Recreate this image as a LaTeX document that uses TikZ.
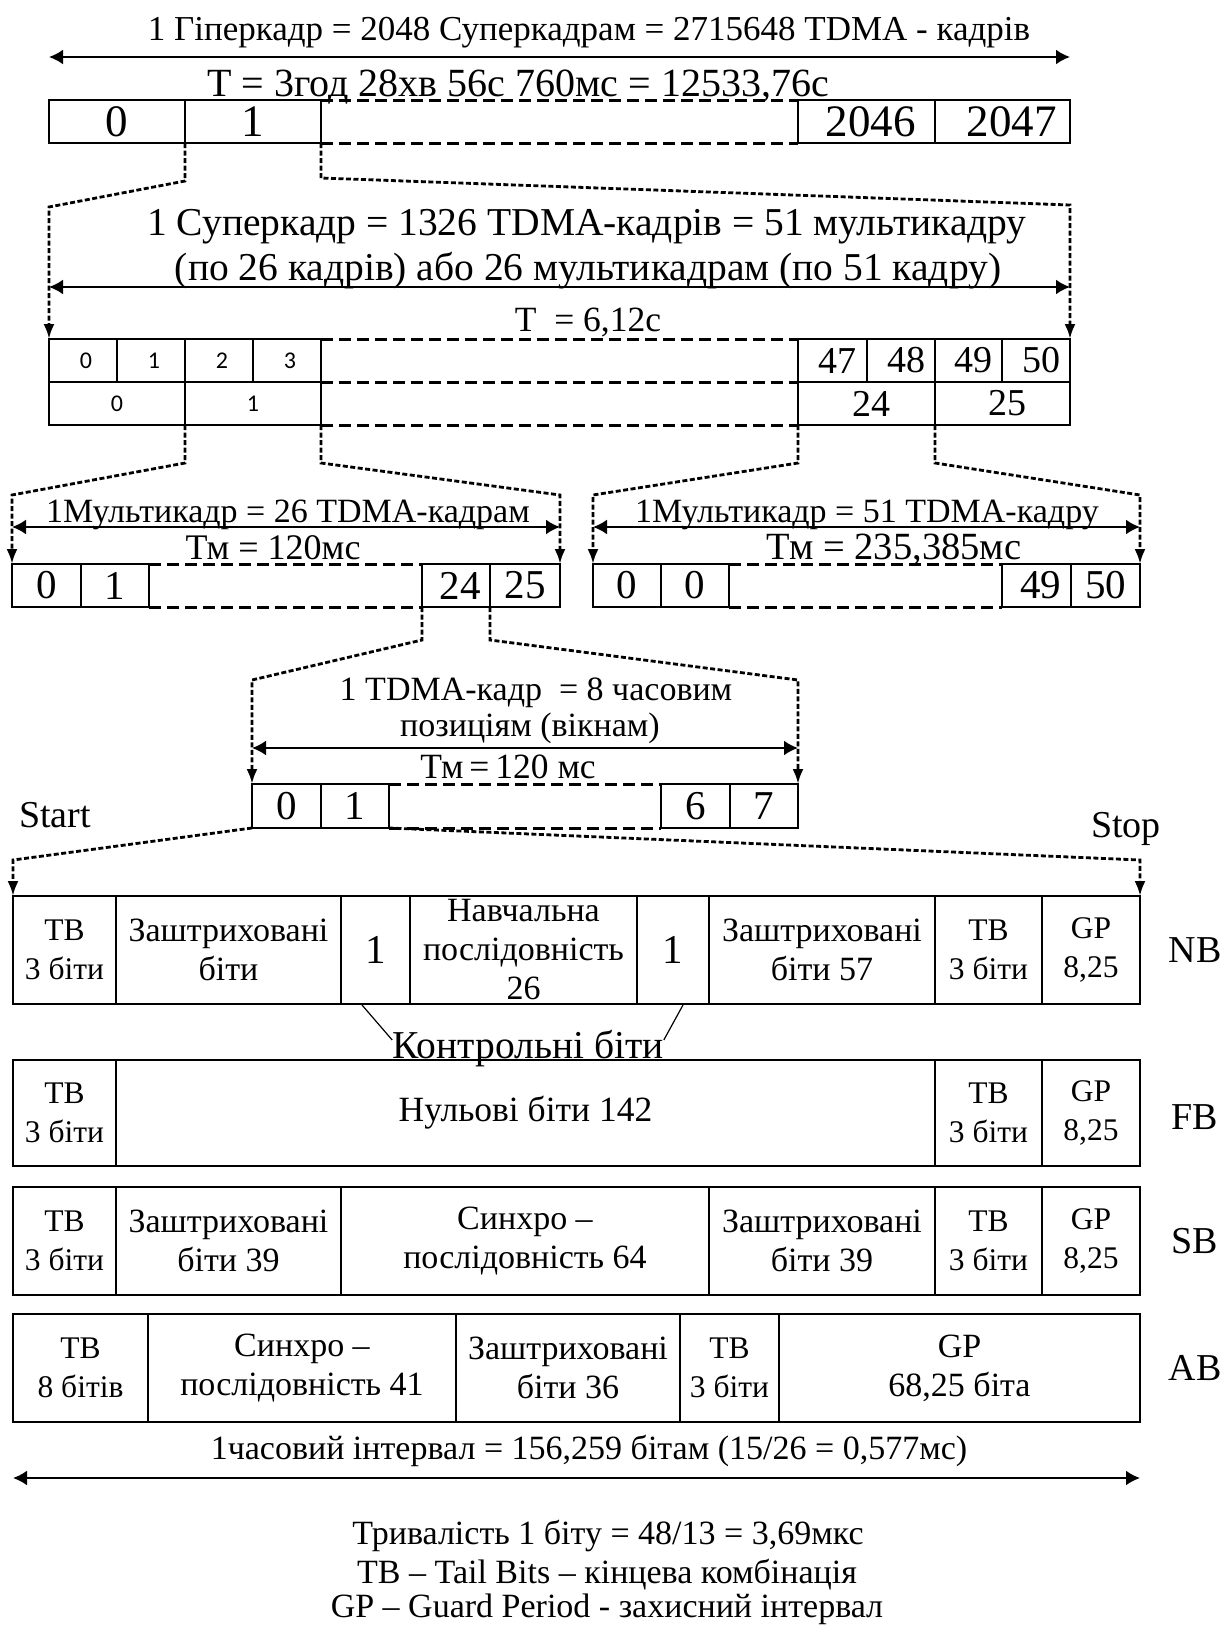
\documentclass[tikz,border=0pt]{standalone}
\usepackage{fontspec}
\setmainfont{Liberation Serif}
\newfontfamily\calib{Carlito}
\usetikzlibrary{arrows.meta}
\newcommand{\mkcell}[7][]{%
  \node[cellbox,#1,minimum width={(#4)-(#3)},minimum height={(#6)-(#5)}] (#2) at ({((#3)+(#4))/2},{((#5)+(#6))/2}) {#7};}
\tikzset{
  cellbox/.style={draw, line width=2pt, inner sep=0pt, outer sep=0pt, align=center, font=\fontsize{34}{39}\selectfont},
  tbc/.style={font=\fontsize{31.5}{39}\selectfont},
  hnum/.style={font=\fontsize{45}{50}\selectfont},
  num/.style={font=\fontsize{41}{48}\selectfont},
  mnum/.style={font=\fontsize{38}{46}\selectfont},
  snum/.style={font=\calib\fontsize{24}{28}\selectfont},
  ttl/.style={inner sep=0pt, anchor=base, font=\fontsize{34}{44}\selectfont},
  sz/.style={font=\fontsize{#1}{44}\selectfont},
  side/.style={inner sep=0pt, font=\fontsize{38}{44}\selectfont},
  dbl/.style={line width=2.2pt, {Latex[length=14pt,width=15pt]}-{Latex[length=14pt,width=15pt]}},
  conn/.style={line width=2.8pt, dash pattern=on 5pt off 2.5pt, -{Latex[length=15pt,width=11pt]}},
  gap/.style={line width=3pt, dash pattern=on 12pt off 6pt},
  thinline/.style={line width=1.2pt}
}
\begin{document}
\begin{tikzpicture}[x=1pt,y=-1pt]
\fill[white] (0,0) rectangle (1223,1625);
\useasboundingbox (0,0) rectangle (1223,1625);

% ---------- Hyperframe ----------
\node[ttl, sz=35] (hyptitle) at (589,40) {1 Гіперкадр = 2048 Суперкадрам = 2715648 TDMA - кадрів};
\coordinate (a1l) at (49,57); \coordinate (a1r) at (1070,57);
\draw[dbl] (a1l) -- (a1r);
\node[ttl, sz=40] (hypT) at (518,96) {T = 3год 28хв 56с 760мс = 12533,76с};
\mkcell[hnum]{h0}{49}{185}{100}{143}{0}
\mkcell[hnum]{h1}{185}{321}{100}{143}{1}
\mkcell[hnum]{h2046}{798}{935}{100}{143}{\hspace*{8pt}2046}
\mkcell[hnum]{h2047}{935}{1070}{100}{143}{\hspace*{18pt}2047}
\draw[gap] (h1.north east) -- (h2046.north west);
\draw[gap] (h1.south east) -- (h2046.south west);

% ---------- Superframe ----------
\node[ttl, sz=39.5] (suptitle1) at (587,235) {1 Суперкадр = 1326 TDMA-кадрів = 51 мультикадру};
\node[ttl, sz=39.5] (suptitle2) at (588,280) {(по 26 кадрів) або 26 мультикадрам (по 51 кадру)};
\coordinate (a2l) at (49,287); \coordinate (a2r) at (1070,287);
\draw[dbl] (a2l) -- (a2r);
\node[ttl, sz=35.5] (supT) at (588,331) {T~ = 6,12с};
\mkcell[snum]{su0}{49}{117}{339}{382}{\hspace*{6pt}0}
\mkcell[snum]{su1}{117}{185}{339}{382}{\hspace*{6pt}1}
\mkcell[snum]{su2}{185}{253}{339}{382}{\hspace*{6pt}2}
\mkcell[snum]{su3}{253}{321}{339}{382}{\hspace*{6pt}3}
\mkcell[mnum]{su47}{798}{867}{339}{382}{\hspace*{10pt}47}
\mkcell[mnum]{su48}{867}{935}{339}{382}{\hspace*{10pt}48}
\mkcell[mnum]{su49}{935}{1002}{339}{382}{\hspace*{10pt}49}
\mkcell[mnum]{su50}{1002}{1070}{339}{382}{\hspace*{10pt}50}
\mkcell[snum]{sv0}{49}{185}{382}{425}{0}
\mkcell[snum]{sv1}{185}{321}{382}{425}{1}
\mkcell[mnum]{sv24}{798}{935}{382}{425}{\hspace*{10pt}24}
\mkcell[mnum]{sv25}{935}{1070}{382}{425}{\hspace*{10pt}25}
\draw[gap] (su3.north east) -- (su47.north west);
\draw[gap] (sv1.north east) -- (sv24.north west);
\draw[gap] (sv1.south east) -- (sv24.south west);

% connectors hyper -> super
\coordinate (c1a) at (185,181); \coordinate (c1b) at (49,207);
\coordinate (c2a) at (321,178); \coordinate (c2b) at (1070,205);
\draw[conn] (h1.south west) -- (c1a) -- (c1b) -- (su0.north west);
\draw[conn] (h1.south east) -- (c2a) -- (c2b) -- (su50.north east);

% ---------- Multiframes ----------
\node[ttl] (mlt1) at (288,522) {1Мультикадр = 26 TDMA-кадрам};
\coordinate (a3l) at (12,527); \coordinate (a3r) at (560,527);
\draw[dbl] (a3l) -- (a3r);
\node[ttl, sz=36] (mlT1) at (273,559) {Тм = 120мс};
\mkcell[num]{ma0}{12}{81}{564}{607}{0}
\mkcell[num]{ma1}{81}{149}{564}{607}{1}
\mkcell[num]{ma24}{422}{490}{564}{607}{\hspace*{8pt}24}
\mkcell[num]{ma25}{490}{560}{564}{607}{25}
\draw[gap] (ma1.north east) -- (ma24.north west);
\draw[gap] (ma1.south east) -- (ma24.south west);

\node[ttl] (mlt2) at (867,522) {1Мультикадр = 51 TDMA-кадру};
\coordinate (a4l) at (593,527); \coordinate (a4r) at (1140,527);
\draw[dbl] (a4l) -- (a4r);
\node[ttl, sz=38.5] (mlT2) at (894,559) {Тм = 235,385мс};
\mkcell[num]{mb0}{593}{661}{564}{607}{0}
\mkcell[num]{mb1}{661}{729}{564}{607}{0}
\mkcell[num]{mb49}{1002}{1071}{564}{607}{\hspace*{8pt}49}
\mkcell[num]{mb50}{1071}{1140}{564}{607}{50}
\draw[gap] (mb1.north east) -- (mb49.north west);
\draw[gap] (mb1.south east) -- (mb49.south west);

% connectors super -> multi
\coordinate (c3a) at (185,463); \coordinate (c3b) at (12,495);
\coordinate (c4a) at (321,463); \coordinate (c4b) at (560,495);
\coordinate (c5a) at (798,463); \coordinate (c5b) at (593,495);
\coordinate (c6a) at (935,463); \coordinate (c6b) at (1140,495);
\draw[conn] (sv1.south west) -- (c3a) -- (c3b) -- (ma0.north west);
\draw[conn] (sv1.south east) -- (c4a) -- (c4b) -- (ma25.north east);
\draw[conn] (sv24.south west) -- (c5a) -- (c5b) -- (mb0.north west);
\draw[conn] (sv24.south east) -- (c6a) -- (c6b) -- (mb50.north east);

% ---------- TDMA frame ----------
\node[ttl] (tdt1) at (536,700) {1 TDMA-кадр~ = 8 часовим};
\node[ttl] (tdt2) at (530,736) {позиціям (вікнам)};
\coordinate (a5l) at (252,748); \coordinate (a5r) at (798,748);
\draw[dbl] (a5l) -- (a5r);
\node[ttl, sz=35.5] (tdT) at (508,778) {Тм\,=\,120 мс};
\mkcell[num]{t0}{252}{321}{784}{828}{0}
\mkcell[num]{t1}{321}{389}{784}{828}{1}
\mkcell[num]{t6}{661}{730}{784}{828}{6}
\mkcell[num]{t7}{730}{798}{784}{828}{7}
\draw[gap] (t1.north east) -- (t6.north west);
\draw[gap] (t1.south east) -- (t6.south west);

\coordinate (c7a) at (422,640); \coordinate (c7b) at (252,680);
\coordinate (c8a) at (490,640); \coordinate (c8b) at (798,680);
\draw[conn] (ma24.south west) -- (c7a) -- (c7b) -- (t0.north west);
\draw[conn] (ma24.south east) -- (c8a) -- (c8b) -- (t7.north east);

\node[side, anchor=base west] (start) at (19,827) {Start};
\node[side, anchor=base] (stop) at (1126,837) {Stop};

% ---------- Bursts ----------
% NB
\mkcell[tbc]{nb1}{13}{116}{896}{1004}{TB\\3 біти}
\mkcell{nb2}{116}{341}{896}{1004}{Заштриховані\\біти}
\mkcell[num]{nb3}{341}{410}{896}{1004}{1}
\mkcell{nb4}{410}{637}{896}{1004}{Навчальна\\послідовність\\26}
\mkcell[num]{nb5}{637}{709}{896}{1004}{1}
\mkcell{nb6}{709}{935}{896}{1004}{Заштриховані\\біти 57}
\mkcell[tbc]{nb7}{935}{1042}{896}{1004}{TB\\3 біти}
\mkcell[tbc]{nb8}{1042}{1140}{896}{1004}{GP\\8,25}
\node[side] (nbl) at (1195,950) {NB};

\coordinate (c9a) at (13,860);
\coordinate (c10a) at (1140,860);
\draw[conn] (t0.south west) -- (c9a) -- (nb1.north west);
\draw[conn] (t1.south east) -- (c10a) -- (nb8.north east);

% control bits
\node[ttl, sz=39.5] (kb) at (528,1058) {Контрольні біти};
\coordinate (kbl) at (362,1005); \coordinate (kbr) at (683,1005);
\draw[thinline] (kbl) -- ([yshift=18pt]kb.base west);
\draw[thinline] (kbr) -- ([yshift=18pt]kb.base east);

% FB
\mkcell[tbc]{fb1}{13}{116}{1060}{1166}{TB\\3 біти}
\mkcell[sz=35.5]{fb2}{116}{935}{1060}{1166}{Нульові біти 142}
\mkcell[tbc]{fb3}{935}{1042}{1060}{1166}{TB\\3 біти}
\mkcell[tbc]{fb4}{1042}{1140}{1060}{1166}{GP\\8,25}
\node[side] (fbl) at (1195,1117) {FB};

% SB
\mkcell[tbc]{sy1}{13}{116}{1187}{1295}{TB\\3 біти}
\mkcell{sy2}{116}{341}{1187}{1295}{Заштриховані\\біти 39}
\mkcell{sy3}{341}{709}{1187}{1295}{Синхро –\\послідовність 64}
\mkcell{sy4}{709}{935}{1187}{1295}{Заштриховані\\біти 39}
\mkcell[tbc]{sy5}{935}{1042}{1187}{1295}{TB\\3 біти}
\mkcell[tbc]{sy6}{1042}{1140}{1187}{1295}{GP\\8,25}
\node[side] (sbl) at (1195,1241) {SB};

% AB
\mkcell[tbc]{ab1}{13}{148}{1314}{1422}{TB\\8 бітів}
\mkcell{ab2}{148}{456}{1314}{1422}{Синхро –\\послідовність 41}
\mkcell{ab3}{456}{680}{1314}{1422}{Заштриховані\\біти 36}
\mkcell[tbc]{ab4}{680}{779}{1314}{1422}{TB\\3 біти}
\mkcell{ab5}{779}{1140}{1314}{1422}{GP\\68,25 біта}
\node[side] (abl) at (1195,1368) {AB};

% bottom
\node[ttl] (intv) at (589,1459) {1часовий інтервал = 156,259 бітам (15/26 = 0,577мс)};
\coordinate (a6l) at (13,1478); \coordinate (a6r) at (1140,1478);
\draw[dbl] (a6l) -- (a6r);
\node[ttl] (note1) at (608,1544) {Тривалість 1 біту = 48/13 = 3,69мкс};
\node[ttl] (note2) at (607,1583) {TB – Tail Bits – кінцева комбінація};
\node[ttl] (note3) at (607,1617) {GP – Guard Period - захисний інтервал};
\end{tikzpicture}
\end{document}
